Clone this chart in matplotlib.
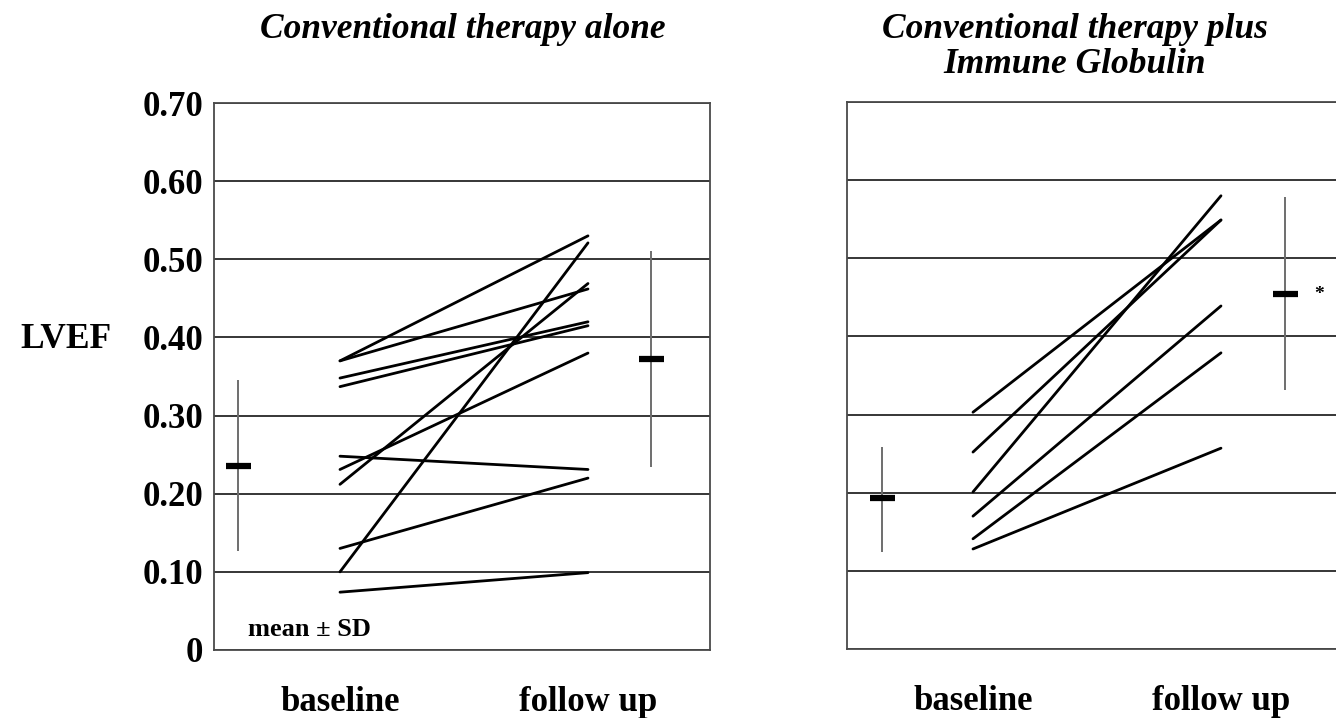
import matplotlib.pyplot as plt

# ── data ──────────────────────────────────────────────────────────────────────
groups = ['Conventional therapy alone', 'Conventional therapy plus\nImmune Globulin']
time_labels = ['baseline', 'follow up']

# conventional therapy alone: LVEF per patient
alone_base   = [0.37, 0.37, 0.348, 0.337, 0.248, 0.231, 0.212, 0.13, 0.10, 0.074]
alone_follow = [0.53, 0.462, 0.42, 0.415, 0.231, 0.38, 0.469, 0.22, 0.521, 0.099]

# conventional therapy plus immune globulin
ig_base   = [0.303, 0.252, 0.201, 0.17, 0.141, 0.128]
ig_follow = [0.549, 0.549, 0.58, 0.439, 0.379, 0.257]

# mean ± SD (baseline, follow up)
alone_mean = [0.235, 0.372]
alone_lo   = [0.127, 0.234]
alone_hi   = [0.345, 0.511]
ig_mean = [0.193, 0.454]
ig_lo   = [0.124, 0.331]
ig_hi   = [0.259, 0.578]

yticks = [0, 0.1, 0.2, 0.3, 0.4, 0.5, 0.6, 0.7]
ytick_labels = ['0', '0.10', '0.20', '0.30', '0.40', '0.50', '0.60', '0.70']

# ── style ─────────────────────────────────────────────────────────────────────
plt.rcParams['font.family'] = ['Liberation Serif', 'DejaVu Serif']
plt.rcParams['font.weight'] = 'bold'

W, H = 1336, 718
fig = plt.figure(figsize=(W / 100, H / 100), dpi=100)

ax_w = 496 / W
ax_h = 547 / H
ax1 = fig.add_axes([214 / W, 1 - 650 / H, ax_w, ax_h])
ax2 = fig.add_axes([847 / W, 1 - 649 / H, ax_w, ax_h])

x_base, x_follow = 1, 3


def draw_panel(ax, base, follow, mean, lo, hi, err_x):
    ax.set_xlim(-0.016, 3.984)
    ax.set_ylim(0, 0.70)
    ax.set_yticks(yticks)
    ax.yaxis.grid(True, color='#262626', lw=1.3)
    ax.set_axisbelow(True)
    for s in ax.spines.values():
        s.set_color('#4a4a4a')
        s.set_linewidth(1.3)

    for b, f in zip(base, follow):
        ax.plot([x_base, x_follow], [b, f], color='black', lw=2.0,
                solid_capstyle='round', zorder=3)

    for x, m, l, h in zip(err_x, mean, lo, hi):
        ax.vlines(x, l, h, color='#6e6e6e', lw=1.4, zorder=2)
        ax.hlines(m, x - 0.1, x + 0.1, color='black', lw=4.5, zorder=4)

    ax.set_xticks([x_base, x_follow])
    ax.set_xticklabels(time_labels, fontsize=25)
    ax.tick_params(axis='x', length=0, pad=26)
    ax.tick_params(axis='y', length=0, pad=8, labelsize=25)


draw_panel(ax1, alone_base, alone_follow, alone_mean, alone_lo, alone_hi, [0.18, 3.51])
ax1.set_yticklabels(ytick_labels)
ax1.text(0.26, 0.012, 'mean ± SD', fontsize=19, ha='left', va='bottom')

draw_panel(ax2, ig_base, ig_follow, ig_mean, ig_lo, ig_hi, [0.27, 3.52])
ax2.set_yticklabels([])
ax2.spines['right'].set_visible(False)
ax2.text(3.79, ig_mean[1], '*', fontsize=14, ha='center', va='center')

# titles and y label
fig.text(463 / W, 1 - 29 / H, groups[0], fontsize=25.5, style='italic',
         ha='center', va='center')
fig.text(1075 / W, 1 - 47 / H, groups[1], fontsize=25.5, style='italic',
         ha='center', va='center', linespacing=1.1)
fig.text(20 / W, 1 - 340 / H, 'LVEF', fontsize=25.5, ha='left', va='center')

plt.savefig('out.png', dpi=100)
